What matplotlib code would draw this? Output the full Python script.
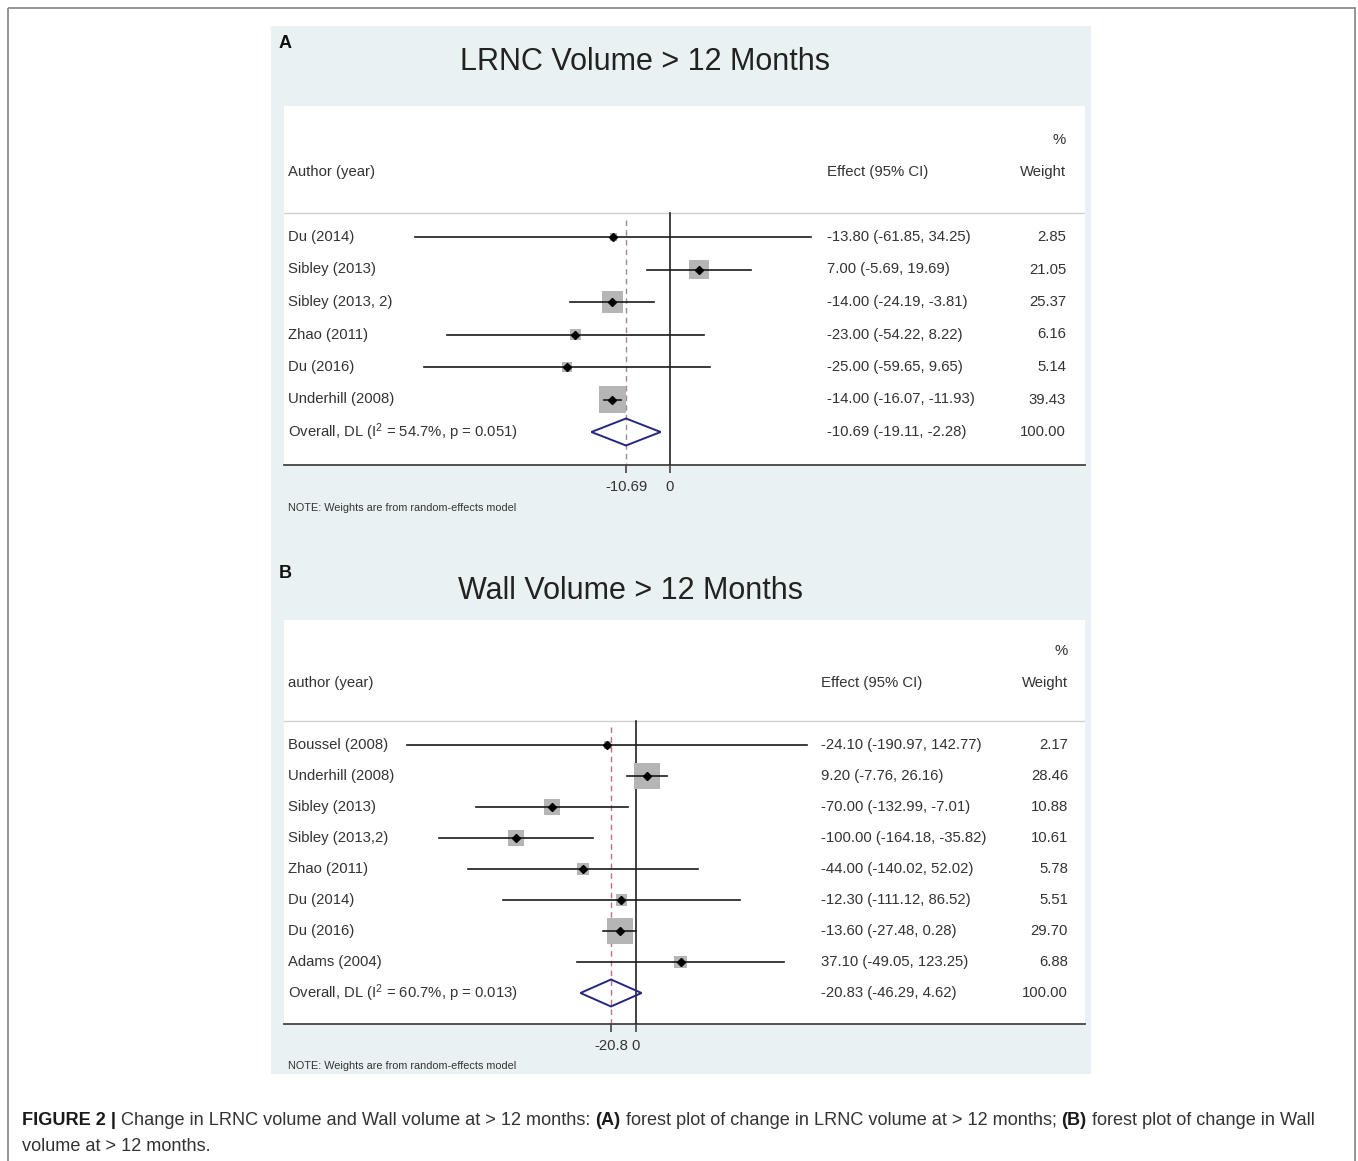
import matplotlib
matplotlib.use("Agg")
import matplotlib.pyplot as plt
from matplotlib.patches import Rectangle, Polygon
import numpy as np

plt.rcParams['font.family'] = ['Liberation Sans', 'DejaVu Sans']
plt.rcParams['mathtext.fontset'] = 'custom'
plt.rcParams['mathtext.rm'] = 'Liberation Sans'
plt.rcParams['mathtext.it'] = 'Liberation Sans:italic'
plt.rcParams['mathtext.bf'] = 'Liberation Sans:bold'

# ---------------- data: panel A ----------------
a_title = "LRNC Volume > 12 Months"
a_head = "Author (year)"
a_studies = ["Du (2014)", "Sibley (2013)", "Sibley (2013, 2)", "Zhao (2011)",
             "Du (2016)", "Underhill (2008)"]
a_est = [-13.80, 7.00, -14.00, -23.00, -25.00, -14.00]
a_lo = [-61.85, -5.69, -24.19, -54.22, -59.65, -16.07]
a_hi = [34.25, 19.69, -3.81, 8.22, 9.65, -11.93]
a_wt = [2.85, 21.05, 25.37, 6.16, 5.14, 39.43]
a_overall_label = "Overall, DL (I$^2$ = 54.7%, p = 0.051)"
a_overall = [-10.69, -19.11, -2.28]
a_overall_wt = 100.00
a_ticks = [-10.69, 0]
a_ticklabels = ["-10.69", "0"]

# ---------------- data: panel B ----------------
b_title = "Wall Volume > 12 Months"
b_head = "author (year)"
b_studies = ["Boussel (2008)", "Underhill (2008)", "Sibley (2013)", "Sibley (2013,2)",
             "Zhao (2011)", "Du (2014)", "Du (2016)", "Adams (2004)"]
b_est = [-24.10, 9.20, -70.00, -100.00, -44.00, -12.30, -13.60, 37.10]
b_lo = [-190.97, -7.76, -132.99, -164.18, -140.02, -111.12, -27.48, -49.05]
b_hi = [142.77, 26.16, -7.01, -35.82, 52.02, 86.52, 0.28, 123.25]
b_wt = [2.17, 28.46, 10.88, 10.61, 5.78, 5.51, 29.70, 6.88]
b_overall_label = "Overall, DL (I$^2$ = 60.7%, p = 0.013)"
b_overall = [-20.83, -46.29, 4.62]
b_overall_wt = 100.00
b_ticks = [-20.83, 0]
b_ticklabels = ["-20.8", "0"]

note = "NOTE: Weights are from random-effects model"

W, H, DPI = 1358, 1161, 100
FS = 10.7
fig = plt.figure(figsize=(W / DPI, H / DPI), dpi=DPI)
fig.patch.set_facecolor("white")

bg = fig.add_axes([0, 0, 1, 1], zorder=0)
bg.set_xlim(0, W)
bg.set_ylim(H, 0)
bg.axis("off")

PANEL_BG = "#eaf1f3"
TXT = "#333333"

# outer frame
bg.add_patch(Rectangle((8, 8), 1347, 1200, fill=False, edgecolor="#8c8c8c", lw=1.3))
# panel backgrounds
bg.add_patch(Rectangle((271, 26), 820, 520, facecolor=PANEL_BG, edgecolor="none"))
bg.add_patch(Rectangle((271, 546), 820, 528, facecolor=PANEL_BG, edgecolor="none"))


def panel(studies, est, lo, hi, wt, ov_label, ov, ov_wt, ticks, ticklabels, head,
          left, right, top, bottom, zero_px, ppu, row0, dy, hdr_px, pct_px, sep_px,
          eff_px, wt_px, dash_color, box_max):
    ax = fig.add_axes([left / W, 1 - bottom / H, (right - left) / W, (bottom - top) / H], zorder=2)
    ax.set_facecolor("white")
    ax.set_xlim((left - zero_px) / ppu, (right - zero_px) / ppu)
    ybot = (bottom - row0) / dy
    ytop = (top - row0) / dy
    ax.set_ylim(ybot, ytop)
    r = lambda py: (py - row0) / dy
    fx = lambda px: (px - left) / (right - left)
    for s in ["top", "left", "right"]:
        ax.spines[s].set_visible(False)
    ax.spines["bottom"].set_color("#444444")
    ax.spines["bottom"].set_linewidth(1.3)
    ax.set_yticks([])
    ax.set_xticks(ticks)
    ax.set_xticklabels(ticklabels)
    ax.tick_params(axis="x", direction="out", length=6, width=1.2, color="#444444",
                   labelsize=FS, labelcolor=TXT, pad=5)

    tr = ax.get_yaxis_transform()
    sep = r(sep_px)
    ax.axhline(sep, color="#d0d0d0", lw=1.0)
    ax.text(fx(288), r(hdr_px), head, transform=tr, fontsize=FS, color=TXT, va="center", ha="left")
    ax.text(fx(eff_px), r(hdr_px), "Effect (95% CI)", transform=tr, fontsize=FS, color=TXT,
            va="center", ha="left")
    ax.text(fx(wt_px), r(hdr_px), "Weight", transform=tr, fontsize=FS, color=TXT,
            va="center", ha="right")
    ax.text(fx(wt_px), r(pct_px), "%", transform=tr, fontsize=FS, color=TXT,
            va="center", ha="right")

    n = len(studies)
    rows = np.arange(n)
    wmax = max(wt)
    # zero line and overall dashed line
    ax.plot([0, 0], [sep, ybot], color="#222222", lw=1.2, zorder=3)
    ax.plot([ov[0], ov[0]], [sep + 0.2, ybot], color=dash_color, lw=1.0,
            ls=(0, (4, 3)), zorder=2)
    for i in range(n):
        side_px = box_max * np.sqrt(wt[i] / wmax)
        side_pt = side_px * 72 / DPI
        ax.scatter([est[i]], [rows[i]], s=side_pt ** 2, marker="s", color="#b5b5b5",
                   edgecolors="none", zorder=4)
        ax.plot([lo[i], hi[i]], [rows[i], rows[i]], color="#1a1a1a", lw=1.2, zorder=5)
        ax.plot([est[i]], [rows[i]], marker="D", ms=4, color="#000000", zorder=6)
        ax.text(fx(288), rows[i], studies[i], transform=tr, fontsize=FS, color=TXT,
                va="center", ha="left")
        ax.text(fx(eff_px), rows[i], f"{est[i]:.2f} ({lo[i]:.2f}, {hi[i]:.2f})", transform=tr,
                fontsize=FS, color=TXT, va="center", ha="left")
        ax.text(fx(wt_px), rows[i], f"{wt[i]:.2f}", transform=tr, fontsize=FS, color=TXT,
                va="center", ha="right")
    # overall
    yo = n
    h = 13.5 / dy
    ax.add_patch(Polygon([[ov[1], yo], [ov[0], yo - h], [ov[2], yo], [ov[0], yo + h]],
                         closed=True, fill=False, edgecolor="#262680", lw=1.4, zorder=6))
    ax.text(fx(288), yo, ov_label, transform=tr, fontsize=FS, color=TXT, va="center", ha="left")
    ax.text(fx(eff_px), yo, f"{ov[0]:.2f} ({ov[1]:.2f}, {ov[2]:.2f})", transform=tr,
            fontsize=FS, color=TXT, va="center", ha="left")
    ax.text(fx(wt_px), yo, f"{ov_wt:.2f}", transform=tr, fontsize=FS, color=TXT,
            va="center", ha="right")
    return ax


panel(a_studies, a_est, a_lo, a_hi, a_wt, a_overall_label, a_overall, a_overall_wt,
      a_ticks, a_ticklabels, a_head, left=284, right=1085, top=106, bottom=465,
      zero_px=670, ppu=44 / 10.69, row0=237, dy=32.5, hdr_px=172, pct_px=140, sep_px=213,
      eff_px=827, wt_px=1066, dash_color="#a08a8a", box_max=27)

panel(b_studies, b_est, b_lo, b_hi, b_wt, b_overall_label, b_overall, b_overall_wt,
      b_ticks, b_ticklabels, b_head, left=284, right=1085, top=620, bottom=1024,
      zero_px=636, ppu=25 / 20.83, row0=745, dy=31, hdr_px=683, pct_px=651, sep_px=721,
      eff_px=821, wt_px=1068, dash_color="#c0707e", box_max=26)

# titles, panel letters, notes
bg.text(645, 62, a_title, fontsize=22, color="#222222", ha="center", va="center")
bg.text(631, 591, b_title, fontsize=22, color="#222222", ha="center", va="center")
bg.text(279, 44, "A", fontsize=13, fontweight="bold", color="#111111", ha="left", va="center")
bg.text(279, 574, "B", fontsize=13, fontweight="bold", color="#111111", ha="left", va="center")
bg.text(288, 508, note, fontsize=7.8, color=TXT, ha="left", va="center")
bg.text(288, 1066, note, fontsize=7.8, color=TXT, ha="left", va="center")

# caption with mixed bold segments
cap1 = [("FIGURE 2 |", True), ("Change in LRNC volume and Wall volume at > 12 months:", False),
        ("(A)", True), ("forest plot of change in LRNC volume at > 12 months;", False),
        ("(B)", True), ("forest plot of change in Wall", False)]
cap2 = [("volume at > 12 months.", False)]

renderer = fig.canvas.get_renderer()


def measure(s, size, bold):
    t = bg.text(0, 0, s, fontsize=size, fontweight="bold" if bold else "normal")
    w = t.get_window_extent(renderer).width
    t.remove()
    return w


def line_width(segs, size):
    sp = measure("x x", size, False) - measure("xx", size, False)
    return sum(measure(s, size, b) for s, b in segs) + sp * (len(segs) - 1), sp


base = 12.0
w0, _ = line_width(cap1, base)
csize = base * 1298 / w0


def draw_line(segs, x, y, size):
    _, sp = line_width(segs, size)
    for s, b in segs:
        t = bg.text(x, y, s, fontsize=size, fontweight="bold" if b else "normal",
                    color="#1a1a1a" if b else "#333333", ha="left", va="baseline")
        x += t.get_window_extent(renderer).width + sp


draw_line(cap1, 22, 1125, csize)
draw_line(cap2, 22, 1151, csize)

fig.savefig("out.png", dpi=DPI, facecolor="white")
